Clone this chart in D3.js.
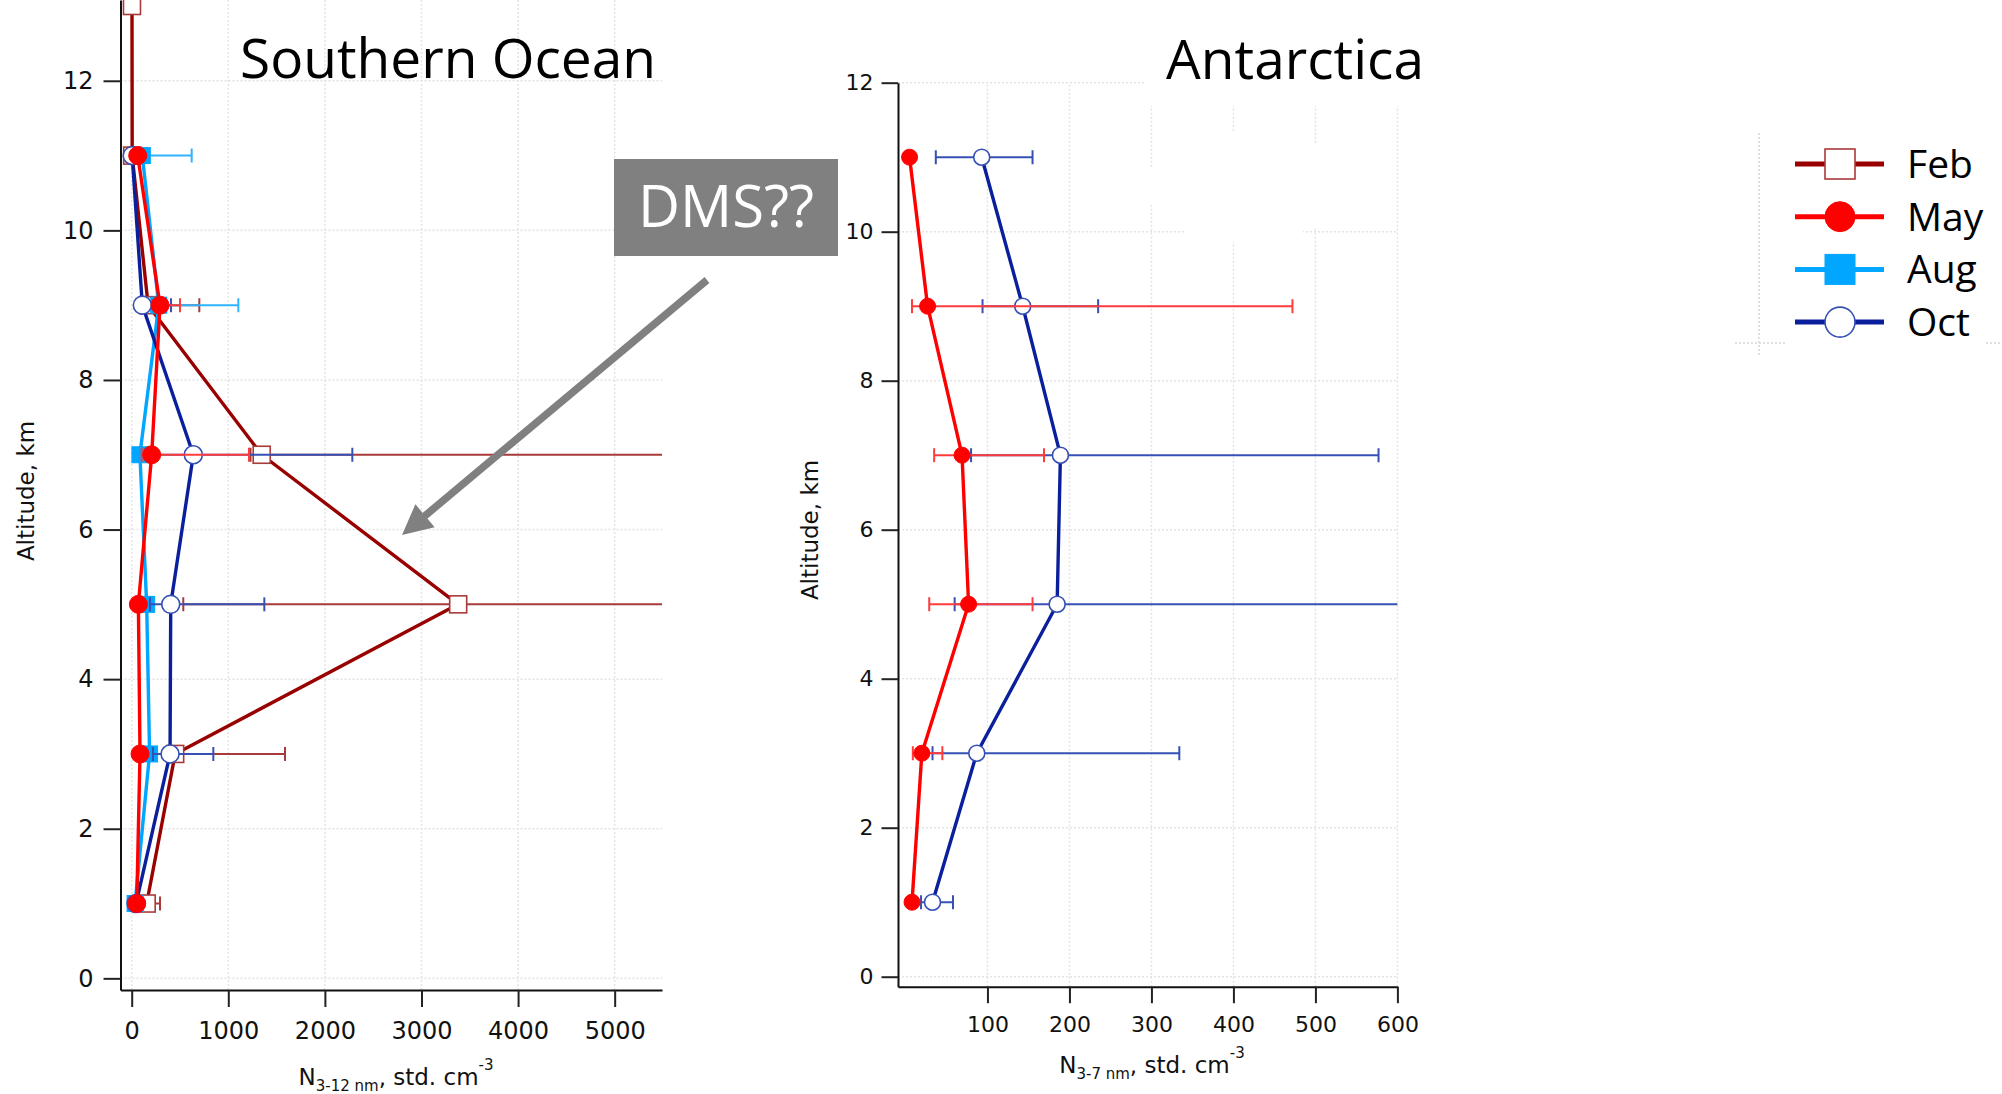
<!DOCTYPE html>
<html>
<head>
<meta charset="utf-8">
<script src="https://cdn.jsdelivr.net/npm/d3@7"></script>
<style>
  html, body { margin: 0; padding: 0; background: #fff; }
  svg { display: block; }
</style>
</head>
<body>
<svg id="chart" width="2002" height="1094"></svg>
<script>
// ---- Southern Ocean, N(3-12 nm), std. cm^-3, by altitude bin (km) ----
const febAltitudes   = [13, 11, 9, 7, 5, 3, 1];
const oceanFeb       = [3, 5, 170, 1346, 3380, 450, 155];
const oceanFebLow    = [3, 0, 120, 1230, 534, 350, 100];
const oceanFebHigh   = [3, 170, 700, 7000, 7000, 1587, 293];

const oceanAltitudes = [11, 9, 7, 5, 3, 1];
const oceanMay       = [62, 293, 207, 69, 86, 52];
const oceanMayLow    = [40, 230, 103, 40, 60, 30];
const oceanMayHigh   = [90, 500, 1214, 110, 120, 80];
const oceanAug       = [110, 280, 85, 155, 185, 35];
const oceanAugLow    = [90, 230, 60, 120, 150, 20];
const oceanAugHigh   = [621, 1104, 110, 190, 210, 50];
const oceanOct       = [5, 110, 638, 404, 397, 45];
const oceanOctLow    = [0, 52, 200, 189, 220, 20];
const oceanOctHigh   = [30, 407, 2284, 1373, 845, 70];

// ---- Antarctica, N(3-7 nm), std. cm^-3 ----
const antAltitudes = [11, 9, 7, 5, 3, 1];
const antMay       = [5, 27, 69, 77, 20, 8];
const antMayLow    = [5, 8, 35, 29, 9, 8];
const antMayHigh   = [5, 472, 169, 155, 45, 8];
const antOct       = [93, 143, 189, 185, 87, 33];
const antOctLow    = [37, 94, 80, 60, 33, 19];
const antOctHigh   = [155, 235, 577, 700, 334, 58];

// ---- axes ----
const altitudeTicks = [0, 2, 4, 6, 8, 10, 12];
const oceanXTicks   = [0, 1000, 2000, 3000, 4000, 5000];
const antXTicks     = [100, 200, 300, 400, 500, 600];
const months        = ["Feb", "May", "Aug", "Oct"];

const style = {
  Feb: { color: "#990000", err: "#a83a3a", marker: "square", filled: false },
  May: { color: "#ff0000", err: "#ff3b3b", marker: "circle", filled: true },
  Aug: { color: "#00a6ff", err: "#2fb4ff", marker: "square", filled: true },
  Oct: { color: "#0a1f9c", err: "#3650b4", marker: "circle", filled: false }
};

const svg = d3.select("#chart");
const defs = svg.append("defs");

const tickFont = "'DejaVu Sans', Verdana, sans-serif";
const titleFont = "'Open Sans', 'Noto Sans', sans-serif";

// scales
const xOcean = d3.scaleLinear().domain([-116, 5490]).range([120.5, 662]);
const yOcean = d3.scaleLinear().domain([-0.156, 13.08]).range([990, 0]);
const xAnt   = d3.scaleLinear().domain([-9.1, 600]).range([898, 1397.4]);
const yAnt   = d3.scaleLinear().domain([-0.134, 12]).range([986.7, 82.7]);

function addClip(id, x, y) {
  defs.append("clipPath").attr("id", id).append("rect")
    .attr("x", x.range()[0]).attr("y", Math.min(...y.range()))
    .attr("width", x.range()[1] - x.range()[0])
    .attr("height", Math.abs(y.range()[0] - y.range()[1]));
}
addClip("clipOcean", xOcean, yOcean);
addClip("clipAnt", xAnt, yAnt);

function drawGrid(x, y, xTicks, yTicks) {
  const g = svg.append("g").attr("stroke", "#e4e4e4").attr("stroke-width", 1.5)
    .attr("stroke-dasharray", "2,2");
  g.selectAll(null).data(xTicks).join("line")
    .attr("x1", d => x(d)).attr("x2", d => x(d))
    .attr("y1", y.range()[0]).attr("y2", y.range()[1]);
  g.selectAll(null).data(yTicks).join("line")
    .attr("x1", x.range()[0]).attr("x2", x.range()[1])
    .attr("y1", d => y(d)).attr("y2", d => y(d));
}

function drawAxes(x, y, xTicks, yTicks, opts) {
  const ax = svg.append("g").attr("transform", `translate(0,${y.range()[0]})`)
    .call(d3.axisBottom(x).tickValues(xTicks).tickFormat(d3.format("d"))
      .tickSize(opts.tick).tickSizeOuter(0).tickPadding(opts.xPad));
  const ay = svg.append("g").attr("transform", `translate(${x.range()[0]},0)`)
    .call(d3.axisLeft(y).tickValues(yTicks).tickFormat(d3.format("d"))
      .tickSize(opts.tick).tickSizeOuter(0).tickPadding(opts.yPad));
  [ax, ay].forEach(a => {
    a.select(".domain").attr("stroke", "#111").attr("stroke-width", 2);
    a.selectAll(".tick line").attr("stroke", "#222").attr("stroke-width", 2);
    a.selectAll(".tick text").attr("fill", "#111")
      .style("font-family", tickFont).style("font-size", opts.font + "px");
  });
}

function drawMarker(g, cx, cy, st, size) {
  if (st.marker === "circle") {
    g.append("circle").attr("cx", cx).attr("cy", cy).attr("r", size / 2)
      .attr("fill", st.filled ? st.color : "#fff")
      .attr("stroke", st.filled ? st.color : st.err).attr("stroke-width", st.filled ? 1 : 1.6);
  } else {
    g.append("rect").attr("x", cx - size / 2).attr("y", cy - size / 2)
      .attr("width", size).attr("height", size)
      .attr("fill", st.filled ? st.color : "#fff")
      .attr("stroke", st.filled ? st.color : st.err).attr("stroke-width", st.filled ? 1 : 1.6);
  }
}

function drawSeries(x, y, clipId, name, alts, vals, lows, highs, markerSize) {
  const st = style[name];
  const pts = alts.map((a, i) => ({ alt: a, v: vals[i], lo: lows[i], hi: highs[i] }));
  const g = svg.append("g");
  const eb = g.append("g").attr("clip-path", `url(#${clipId})`)
    .attr("stroke", st.err).attr("stroke-width", 2);
  const [d0, d1] = x.domain();
  pts.filter(p => p.hi > p.lo).forEach(p => {
    const yy = y(p.alt);
    eb.append("line").attr("x1", x(p.lo)).attr("x2", x(p.hi)).attr("y1", yy).attr("y2", yy);
    [p.lo, p.hi].forEach(v => {
      if (v !== p.v && v >= d0 && v <= d1) {
        eb.append("line").attr("x1", x(v)).attr("x2", x(v))
          .attr("y1", yy - 7).attr("y2", yy + 7);
      }
    });
  });
  g.append("path").datum(pts)
    .attr("d", d3.line().x(p => x(p.v)).y(p => y(p.alt)))
    .attr("fill", "none").attr("stroke", st.color).attr("stroke-width", 3.4)
    .attr("stroke-linejoin", "round");
  const mk = g.append("g");
  pts.forEach(p => drawMarker(mk, x(p.v), y(p.alt), st, markerSize));
}

function xTitle(cx, baseline, sub) {
  const t = svg.append("text").attr("x", cx).attr("y", baseline)
    .attr("text-anchor", "middle").style("font-family", tickFont)
    .style("font-size", "23px").attr("fill", "#111");
  t.append("tspan").text("N");
  t.append("tspan").attr("dy", 6).style("font-size", "15px").text(sub);
  t.append("tspan").attr("dy", -6).text(", std. cm");
  t.append("tspan").attr("dy", -15).style("font-size", "15px").text("-3");
}

function yTitle(cx, cy) {
  svg.append("text").attr("transform", `translate(${cx},${cy}) rotate(-90)`)
    .attr("text-anchor", "middle").attr("dominant-baseline", "central")
    .style("font-family", tickFont).style("font-size", "23px").attr("fill", "#111")
    .text("Altitude, km");
}

// ---------- Southern Ocean panel ----------
drawGrid(xOcean, yOcean, oceanXTicks, altitudeTicks);
drawAxes(xOcean, yOcean, oceanXTicks, altitudeTicks, { tick: 17, xPad: 15, yPad: 10, font: 24 });
drawSeries(xOcean, yOcean, "clipOcean", "Feb", febAltitudes, oceanFeb, oceanFebLow, oceanFebHigh, 17);
drawSeries(xOcean, yOcean, "clipOcean", "Aug", oceanAltitudes, oceanAug, oceanAugLow, oceanAugHigh, 16);
drawSeries(xOcean, yOcean, "clipOcean", "Oct", oceanAltitudes, oceanOct, oceanOctLow, oceanOctHigh, 18);
drawSeries(xOcean, yOcean, "clipOcean", "May", oceanAltitudes, oceanMay, oceanMayLow, oceanMayHigh, 18);
xTitle(396, 1085, "3-12 nm");
yTitle(26, 491);
svg.append("text").attr("x", 448).attr("y", 78).attr("text-anchor", "middle")
  .style("font-family", titleFont).style("font-size", "55px").attr("fill", "#000")
  .text("Southern Ocean");

// ---------- Antarctica panel ----------
drawGrid(xAnt, yAnt, antXTicks, altitudeTicks);
// blank regions where the gridlines are broken around the title
const gaps = svg.append("g").attr("fill", "#fff");
[[1146, 0, 294, 106], [1185, 131, 118, 111], [1305, 145, 20, 82], [1141, 168, 20, 37]]
  .forEach(r => gaps.append("rect").attr("x", r[0]).attr("y", r[1]).attr("width", r[2]).attr("height", r[3]));
drawAxes(xAnt, yAnt, antXTicks, altitudeTicks, { tick: 16.5, xPad: 13, yPad: 8, font: 22 });
drawSeries(xAnt, yAnt, "clipAnt", "Oct", antAltitudes, antOct, antOctLow, antOctHigh, 16);
drawSeries(xAnt, yAnt, "clipAnt", "May", antAltitudes, antMay, antMayLow, antMayHigh, 16);
xTitle(1152, 1073, "3-7 nm");
yTitle(810, 530);
svg.append("text").attr("x", 1295).attr("y", 79).attr("text-anchor", "middle")
  .style("font-family", titleFont).style("font-size", "55px").attr("fill", "#000")
  .text("Antarctica");

// ---------- DMS annotation ----------
svg.append("rect").attr("x", 614).attr("y", 159).attr("width", 224).attr("height", 97)
  .attr("fill", "#808080");
svg.append("text").attr("x", 726).attr("y", 227).attr("text-anchor", "middle")
  .style("font-family", titleFont).style("font-size", "58px").attr("fill", "#fff")
  .text("DMS??");
(function arrow() {
  const tail = [707, 280], tip = [402, 535];
  const dx = tip[0] - tail[0], dy = tip[1] - tail[1];
  const len = Math.hypot(dx, dy), ux = dx / len, uy = dy / len;
  const headLen = 30, headHalf = 15;
  const bx = tip[0] - ux * headLen, by = tip[1] - uy * headLen;
  svg.append("line").attr("x1", tail[0]).attr("y1", tail[1])
    .attr("x2", tip[0] - ux * (headLen - 4)).attr("y2", tip[1] - uy * (headLen - 4))
    .attr("stroke", "#808080").attr("stroke-width", 7.5);
  svg.append("polygon").attr("fill", "#808080")
    .attr("points", [[tip[0], tip[1]], [bx - uy * headHalf, by + ux * headHalf], [bx + uy * headHalf, by - ux * headHalf]]
      .map(p => p.join(",")).join(" "));
})();

// ---------- legend ----------
const lg = svg.append("g");
// faint dotted frame remnants around the legend
const fr = lg.append("g").attr("stroke", "#d6d6d6").attr("stroke-width", 1.5).attr("stroke-dasharray", "2,2");
fr.append("line").attr("x1", 1759).attr("x2", 1759).attr("y1", 133).attr("y2", 355);
fr.append("line").attr("x1", 1735).attr("x2", 1786).attr("y1", 343).attr("y2", 343);
fr.append("line").attr("x1", 1986).attr("x2", 2002).attr("y1", 343).attr("y2", 343);
months.forEach((m, i) => {
  const st = style[m];
  const cy = 164 + i * 52.7;
  lg.append("line").attr("x1", 1795).attr("x2", 1884).attr("y1", cy).attr("y2", cy)
    .attr("stroke", st.color).attr("stroke-width", 5);
  drawMarker(lg, 1840, cy, st, 30);
  lg.append("text").attr("x", 1907).attr("y", cy + 14)
    .style("font-family", titleFont).style("font-size", "39px").attr("fill", "#000")
    .text(m);
});
</script>
</body>
</html>
